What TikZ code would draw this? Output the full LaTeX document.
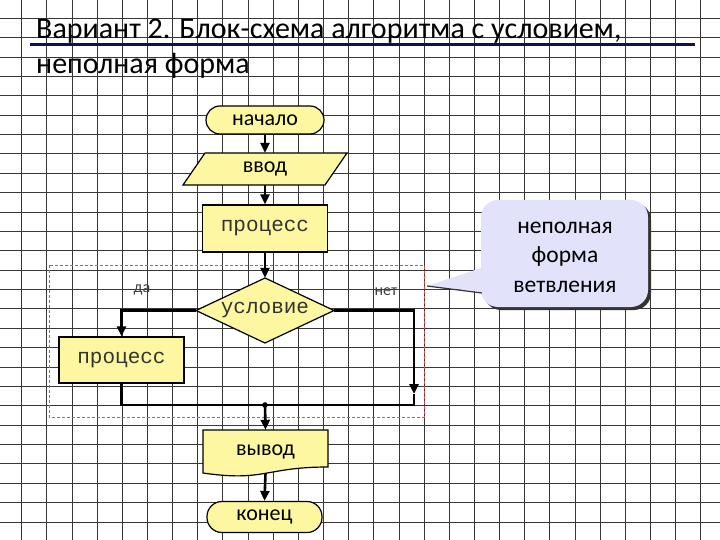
\documentclass[tikz,border=0pt]{standalone}
\usepackage{fontspec}
\setmainfont{Carlito}
\newfontfamily\monof{Liberation Mono}
\usetikzlibrary{arrows.meta,calc}
\definecolor{fyel}{RGB}{252,247,160}
\definecolor{navyc}{RGB}{15,15,90}
\definecolor{lav}{RGB}{226,226,250}
\definecolor{dred}{RGB}{230,75,75}
\definecolor{gridc}{RGB}{55,55,55}
\newcommand{\lblf}{\fontsize{22}{26}\selectfont}
\newcommand{\monolbl}{\monof\fontsize{21}{24}\selectfont}
\begin{document}
\begin{tikzpicture}[x=1pt,y=-1pt,
  box/.style={draw=black,line width=1.2pt,fill=fyel,inner sep=0pt},
  ghost/.style={inner sep=0pt,draw=none},
  shapeln/.style={draw=black,line width=1.2pt,fill=fyel},
  conn/.style={line width=2.6pt,black},
  arr/.style={conn,-{Triangle[length=10pt,width=9pt]}},
  gridln/.style={gridc,line width=0.9pt}]
\useasboundingbox (0,0) rectangle (720,540);
\fill[white] (0,0) rectangle (720,540);
% grid
\foreach \i in {0,...,27} \draw[gridln] ({21.7+25.15*\i},0) -- ++(0,540);
\foreach \j in {0,...,27} \draw[gridln] (0,{18.3+19.375*\j}) -- ++(720,0);
% title
\node[anchor=base west,inner sep=0pt,font=\fontsize{30}{36}\selectfont] (t1) at (36,39) {Вариант 2. Блок-схема алгоритма с условием,};
\node[anchor=base west,inner sep=0pt,font=\fontsize{30}{36}\selectfont] (t2) at (36,74) {неполная форма};
\draw[navyc,line width=3pt] (30,45) -- (695,45);
% dashed frame
\draw[dred,line width=1pt,dash pattern=on 3pt off 2pt] (49,265) rectangle (424,417);
% shapes drawn directly
\draw[shapeln] (205,153) -- (347,153) -- (325,185) -- (183,185) -- cycle;
\draw[shapeln] (196,310.5) -- (265,278) -- (334,310.5) -- (265,343) -- cycle;
\draw[shapeln] (203,430) -- (328,430) -- (328,467) .. controls (265,467) and (265,482) .. (203,473) -- cycle;
% nodes
\node[box,rounded corners=14pt,minimum width=118pt,minimum height=28pt,font=\lblf] (start) at (265,120) {начало};
\node[ghost,minimum width=164pt,minimum height=32pt,font=\lblf] (in) at (265,169) {ввод};
\node[box,minimum width=125pt,minimum height=47pt,font=\monolbl,text=black!80] (p1) at (265,228.5) {процесс};
\node[ghost,minimum width=138pt,minimum height=65pt,font=\monolbl,text=black!80] (cond) at (265,310.5) {условие};
\node[box,minimum width=125pt,minimum height=46pt,font=\monolbl,text=black!80] (p2) at (121.5,360) {процесс};
\node[ghost,minimum width=125pt,minimum height=43pt,font=\lblf] (out) at (265.5,451.5) {вывод};
\node[box,rounded corners=15pt,minimum width=115pt,minimum height=31pt,font=\lblf] (fin) at (264.5,517) {конец};
\node[ghost,font=\fontsize{16}{19}\selectfont,text=black!75] (da) at (142,290) {да};
\node[ghost,font=\fontsize{16}{19}\selectfont,text=black!75] (net) at (386,292) {нет};
% connectors
\coordinate (nb) at (414,394);
\coordinate (jr) at (414,405);
\coordinate (j) at (265,405);
\draw[arr] (start.south) -- (in.north);
\draw[arr] (in.south) -- (p1.north);
\draw[arr] (p1.south) -- (cond.north);
\draw[arr] (cond.west) -| (p2.north);
\draw[arr] (cond.east) -| (nb);
\draw[conn] (nb) -- (jr) -| (p2.south);
\fill (j) circle (2.8);
\draw[arr] (j) -- (out.north);
\draw[arr] (out.south) -- (fin.north);
% callout
\fill[black!80,rounded corners=17pt] (484,203) rectangle (651,310);
\fill[lav,rounded corners=17pt] (481,200) rectangle (648,307);
\fill[lav] (490,265) -- (427,286) -- (490,293) -- cycle;
\draw[black!80,line width=1.2pt] (427,286) -- (482,293);
\node[ghost,align=center,font=\fontsize{23.5}{29.5}\selectfont,text=black] (callout) at (565,257) {неполная\\форма\\ветвления};
\end{tikzpicture}
\end{document}
